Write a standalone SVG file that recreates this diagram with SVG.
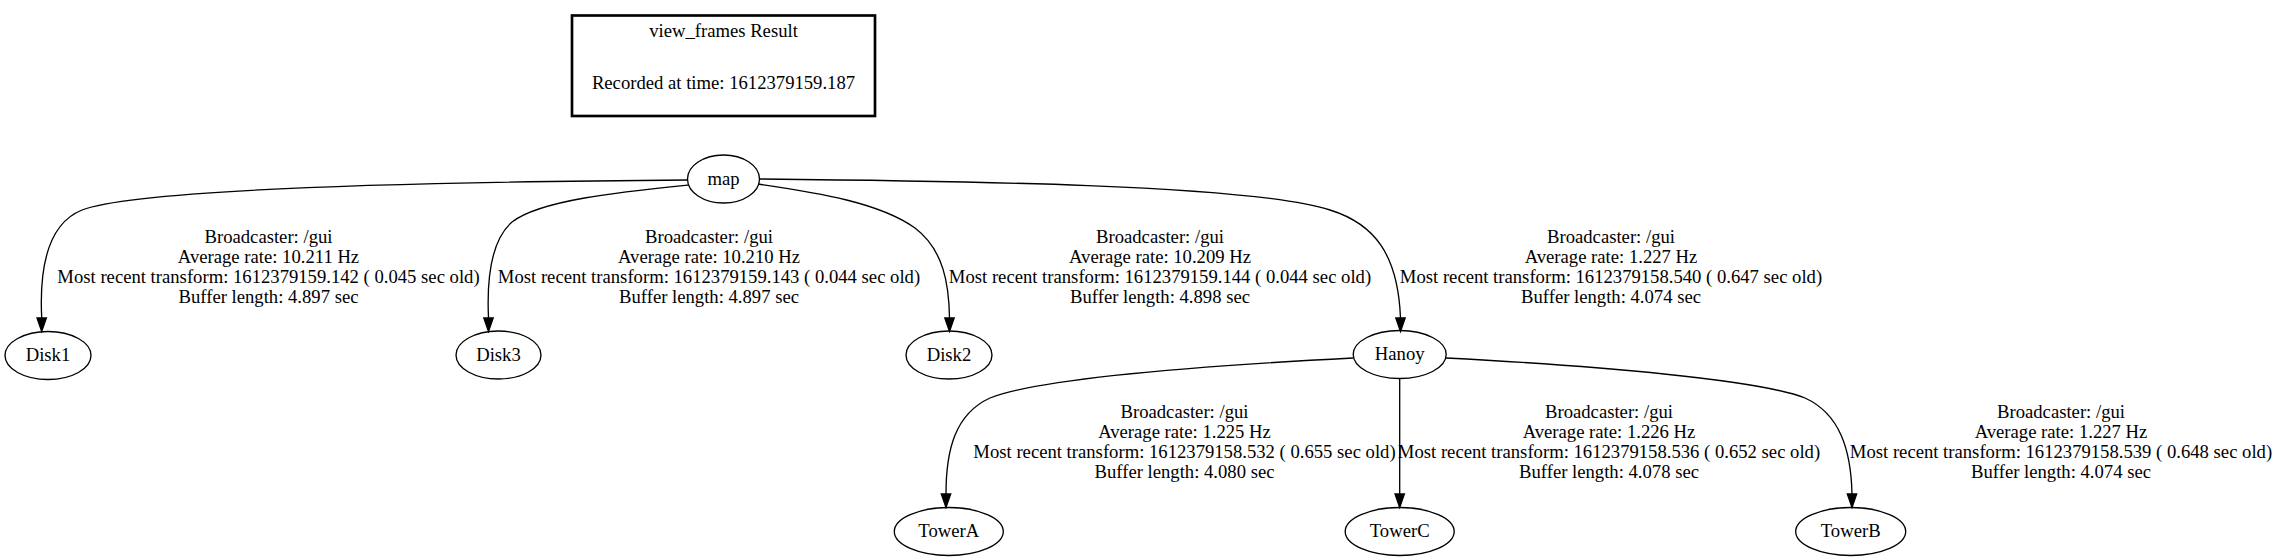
<svg xmlns="http://www.w3.org/2000/svg" width="2277" height="560" viewBox="0 0 2277 560">
<style>
text{font-family:"Liberation Serif","Times New Roman",serif;font-size:18.67px;fill:#000;text-anchor:middle}
.node ellipse{fill:none;stroke:#000;stroke-width:1.33}
.edge path{fill:none;stroke:#000;stroke-width:1.33}
.edge polygon{fill:#000;stroke:#000;stroke-width:1.33}
</style>
<rect x="0" y="0" width="2277" height="560" fill="#fff"/>
<g id="title">
<rect x="572" y="15.5" width="303" height="100.5" fill="none" stroke="#000" stroke-width="2.67"/>
<text x="723.5" y="36.5">view_frames Result</text>
<text x="723.5" y="89">Recorded at time: 1612379159.187</text>
</g>
<g id="connectors" class="edge">
<g id="e_map_Disk1">
<path d="M688,180 C552,181 149,184 82,210 C42,226 40,283 41.7,318"/>
<polygon points="37,318 46.4,318 41.7,331.5"/>
<text x="268.5" y="242.5">Broadcaster: /gui</text>
<text x="268.5" y="262.5">Average rate: 10.211 Hz</text>
<text x="268.5" y="282.5">Most recent transform: 1612379159.142 ( 0.045 sec old)</text>
<text x="268.5" y="302.5">Buffer length: 4.897 sec</text>
</g>
<g id="e_map_Disk3">
<path d="M689,185 C620,192 540,200 512,222 C489,242 487,285 488.5,318"/>
<polygon points="483.8,318 493.2,318 488.5,331.5"/>
<text x="709" y="242.5">Broadcaster: /gui</text>
<text x="709" y="262.5">Average rate: 10.210 Hz</text>
<text x="709" y="282.5">Most recent transform: 1612379159.143 ( 0.044 sec old)</text>
<text x="709" y="302.5">Buffer length: 4.897 sec</text>
</g>
<g id="e_map_Disk2">
<path d="M758,184 C820,193 880,203 915,228 C944,250 949,285 949.5,318"/>
<polygon points="944.8,318 954.2,318 949.5,331.5"/>
<text x="1160" y="242.5">Broadcaster: /gui</text>
<text x="1160" y="262.5">Average rate: 10.209 Hz</text>
<text x="1160" y="282.5">Most recent transform: 1612379159.144 ( 0.044 sec old)</text>
<text x="1160" y="302.5">Buffer length: 4.898 sec</text>
</g>
<g id="e_map_Hanoy">
<path d="M759,179 C950,181 1250,184 1330,210 C1375,224 1398,255 1400.5,318"/>
<polygon points="1395.8,318 1405.2,318 1400.5,331.5"/>
<text x="1611" y="242.5">Broadcaster: /gui</text>
<text x="1611" y="262.5">Average rate: 1.227 Hz</text>
<text x="1611" y="282.5">Most recent transform: 1612379158.540 ( 0.647 sec old)</text>
<text x="1611" y="302.5">Buffer length: 4.074 sec</text>
</g>
<g id="e_Hanoy_TowerA">
<path d="M1353,358 C1200,366 1040,378 990,398 C955,414 946,450 946,494"/>
<polygon points="941.3,494 950.7,494 946,507.5"/>
<text x="1184.5" y="417.7">Broadcaster: /gui</text>
<text x="1184.5" y="437.7">Average rate: 1.225 Hz</text>
<text x="1184.5" y="457.7">Most recent transform: 1612379158.532 ( 0.655 sec old)</text>
<text x="1184.5" y="477.7">Buffer length: 4.080 sec</text>
</g>
<g id="e_Hanoy_TowerC">
<path d="M1399.7,378.5 L1399.7,494"/>
<polygon points="1395,494 1404.4,494 1399.7,507.5"/>
<text x="1609" y="417.7">Broadcaster: /gui</text>
<text x="1609" y="437.7">Average rate: 1.226 Hz</text>
<text x="1609" y="457.7">Most recent transform: 1612379158.536 ( 0.652 sec old)</text>
<text x="1609" y="477.7">Buffer length: 4.078 sec</text>
</g>
<g id="e_Hanoy_TowerB">
<path d="M1446,358 C1600,366 1760,380 1805,398 C1840,414 1851,450 1852,494"/>
<polygon points="1847.3,494 1856.7,494 1852,507.5"/>
<text x="2061" y="417.7">Broadcaster: /gui</text>
<text x="2061" y="437.7">Average rate: 1.227 Hz</text>
<text x="2061" y="457.7">Most recent transform: 1612379158.539 ( 0.648 sec old)</text>
<text x="2061" y="477.7">Buffer length: 4.074 sec</text>
</g>
</g>
<g id="map" class="node"><ellipse cx="723.5" cy="179" rx="36" ry="24"/><text x="723.5" y="184.5">map</text></g>
<g id="Disk1" class="node"><ellipse cx="48" cy="355.5" rx="43" ry="24"/><text x="48" y="361">Disk1</text></g>
<g id="Disk3" class="node"><ellipse cx="498.5" cy="355" rx="42.5" ry="24"/><text x="498.5" y="360.5">Disk3</text></g>
<g id="Disk2" class="node"><ellipse cx="949" cy="355" rx="43" ry="24"/><text x="949" y="360.5">Disk2</text></g>
<g id="Hanoy" class="node"><ellipse cx="1399.7" cy="354.5" rx="46.5" ry="24"/><text x="1399.7" y="360">Hanoy</text></g>
<g id="TowerA" class="node"><ellipse cx="948.8" cy="531.5" rx="54.5" ry="24"/><text x="948.8" y="537">TowerA</text></g>
<g id="TowerC" class="node"><ellipse cx="1399.7" cy="531.5" rx="54.5" ry="24"/><text x="1399.7" y="537">TowerC</text></g>
<g id="TowerB" class="node"><ellipse cx="1850.7" cy="531.5" rx="55" ry="24"/><text x="1850.7" y="537">TowerB</text></g>
</svg>
